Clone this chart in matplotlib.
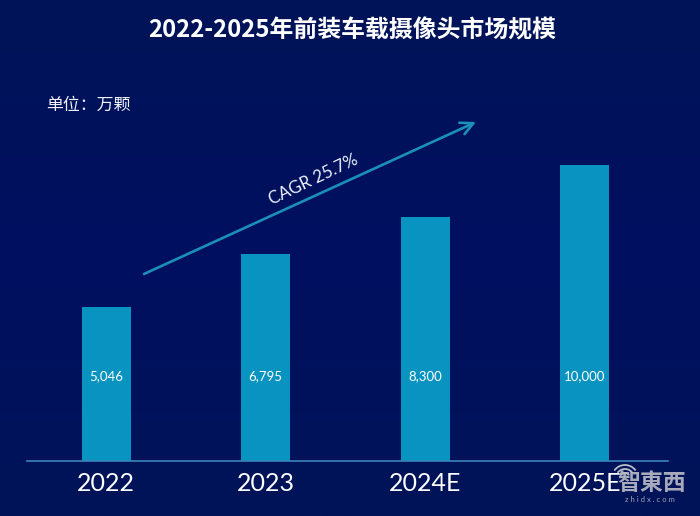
import numpy as np
import matplotlib
matplotlib.use("Agg")
import matplotlib.pyplot as plt
from matplotlib.patches import Arc

plt.rcParams['font.family'] = ['Noto Sans CJK SC', 'DejaVu Sans']

# Values as printed, and bar heights (not quite to scale)
years = ["2022", "2023", "2024E", "2025E"]
value_labels = ["5,046", "6,795", "8,300", "10,000"]
bar_heights = [5190, 6980, 8240, 10000]

W, H = 700, 516
fig = plt.figure(figsize=(7, 5.16), dpi=100)


def px(x, y):
    # pixel position in the reference -> figure fraction
    return x / W, 1 - y / H


# Background, nearly flat with a slightly brighter middle
bg = fig.add_axes([0, 0, 1, 1], zorder=0)
bg.axis("off")
edge = np.array([1, 20, 88]) / 255
mid = np.array([0, 15, 96]) / 255
t = np.abs(np.linspace(-1, 1, 256))[:, None, None]
bg.imshow(mid * (1 - t) + edge * t, aspect="auto", extent=[0, W, H, 0])
bg.set_xlim(0, W)
bg.set_ylim(H, 0)

# Bars
ax = fig.add_axes([27 / W, 1 - 460.5 / H, 641 / W, 295.5 / H], zorder=1)
ax.patch.set_alpha(0)
xs = np.arange(len(years))
bars = ax.bar(xs, bar_heights, width=49 / 159.5, color="#0893c0")
ax.set_xlim(-79 / 159.5, 3 + 83 / 159.5)
ax.set_ylim(0, 10000)
ax.yaxis.set_visible(False)
for s in ["top", "left", "right"]:
    ax.spines[s].set_visible(False)
ax.spines["bottom"].set_color("#3a85bb")
ax.spines["bottom"].set_linewidth(1.2)
ax.set_xticks(xs)
ax.set_xticklabels(years, fontsize=18, color="white", family=["Lato", "DejaVu Sans"])
ax.tick_params(axis="x", length=0, pad=8)

for x, lab in zip(xs, value_labels):
    ax.text(x, 2850, lab, color="white", fontsize=9.5, ha="center", va="center",
            family=["Lato", "DejaVu Sans"])

# Title and unit
fig.text(*px(352, 31), "2022-2025年前装车载摄像头市场规模", color="white", fontsize=17.2,
         fontweight="bold", ha="center", va="center")
fig.text(*px(46, 105), "单位：万颗", color="#f0f2f8", fontsize=12.2, ha="left", va="center")

# CAGR arrow
ax.annotate("", xy=px(476, 122), xytext=px(144, 274), xycoords="figure fraction",
            textcoords="figure fraction",
            arrowprops=dict(arrowstyle="->,head_length=0.9,head_width=0.45", color="#1a8fb8",
                            lw=1.9, shrinkA=0, shrinkB=0), zorder=3)
fig.text(*px(313, 180), "CAGR 25.7%", color="#eef3fb", fontsize=12.2, rotation=25.5,
         rotation_mode="anchor", ha="center", va="center", family=["Lato", "DejaVu Sans"])

# Watermark
fig.text(*px(652, 484), "智東西", color="#b9bcc6", fontsize=16.5, fontweight="bold",
         ha="center", va="center", alpha=0.9)
fig.text(*px(650, 500), "z h i d x . c o m", color="#9ea4b4", fontsize=5.5,
         ha="center", va="center", family=["Lato", "DejaVu Sans"])
for d in [10, 18, 26]:
    bg.add_patch(Arc((625, 478), d, d, theta1=215, theta2=325, color="#b9bcc6", lw=1.3))

fig.savefig("out.png", dpi=100)
